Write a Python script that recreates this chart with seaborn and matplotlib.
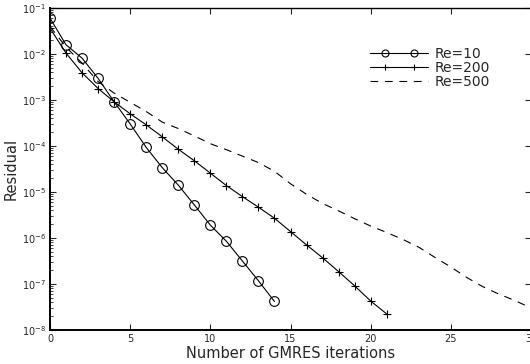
import numpy as np
import pandas as pd
import matplotlib
matplotlib.use("Agg")
import matplotlib.pyplot as plt
import seaborn as sns
from matplotlib.legend_handler import HandlerLine2D
from matplotlib.lines import Line2D

# ---- data (log10 of residual) ----
it_re10 = list(range(0, 15))
log_re10 = [-1.22, -1.80, -2.09, -2.53, -3.04, -3.52, -4.03, -4.47, -4.85,
            -5.28, -5.72, -6.07, -6.50, -6.93, -7.38]
it_re200 = list(range(0, 22))
log_re200 = [-1.44, -1.98, -2.41, -2.75, -3.04, -3.30, -3.54, -3.80, -4.07,
             -4.32, -4.59, -4.86, -5.10, -5.33, -5.57, -5.86, -6.15, -6.43,
             -6.73, -7.04, -7.37, -7.65]
it_re500 = list(range(0, 31))
log_re500 = [-1.40, -1.85, -2.20, -2.60, -2.85, -3.05, -3.25, -3.48, -3.62,
             -3.78, -3.95, -4.08, -4.22, -4.36, -4.55, -4.82, -5.05, -5.25,
             -5.41, -5.58, -5.74, -5.88, -6.03, -6.20, -6.42, -6.63, -6.86,
             -7.06, -7.22, -7.36, -7.52]
labels = ["Re=10", "Re=200", "Re=500"]

sns.set_style("ticks")
plt.rcParams['font.family'] = ['DejaVu Sans']

fig = plt.figure(figsize=(5.30, 3.64), dpi=100)
ax = fig.add_axes([50/530, 1 - 330/364, 481/530, 322/364])

d10 = pd.DataFrame({"it": it_re10, "res": np.power(10.0, log_re10)})
d200 = pd.DataFrame({"it": it_re200, "res": np.power(10.0, log_re200)})
d500 = pd.DataFrame({"it": it_re500, "res": np.power(10.0, log_re500)})

sns.lineplot(data=d10, x="it", y="res", ax=ax, color="k", lw=0.8,
             linestyle="-", marker="o", markersize=7, mfc="none",
             mec="k", mew=0.8, label=labels[0])
sns.lineplot(data=d200, x="it", y="res", ax=ax, color="k", lw=0.8,
             linestyle="-", marker="+", markersize=5.5, mec="k", mew=0.8,
             label=labels[1])
sns.lineplot(data=d500, x="it", y="res", ax=ax, color="k", lw=0.8,
             linestyle=(0, (7, 6)), label=labels[2])

ax.set_yscale("log")
ax.set_xlim(0, 30)
ax.set_ylim(1e-8, 1e-1)
ax.set_xticks([0, 5, 10, 15, 20, 25, 30])
ax.tick_params(which="both", direction="in", top=True, right=True,
               labelsize=7, pad=3)
ax.tick_params(which="major", length=4, width=0.8)
ax.tick_params(which="minor", length=2, width=0.6)
ax.tick_params(axis="x", which="minor", top=False, bottom=False)
ax.tick_params(axis="y", which="minor", right=False)
for s in ax.spines.values():
    s.set_linewidth(1.0)
    s.set_visible(True)
    s.set_color("k")
ax.spines["left"].set_linewidth(1.4)
ax.spines["bottom"].set_linewidth(1.4)

ax.set_xlabel("Number of GMRES iterations", fontsize=10.5, labelpad=1)
ax.set_ylabel("Residual", fontsize=10.5, labelpad=2)


class MatlabHandler(HandlerLine2D):
    def create_artists(self, legend, orig_handle, xdescent, ydescent,
                       width, height, fontsize, trans):
        y = (height - ydescent) / 2
        x0, x1 = -xdescent, -xdescent + width
        line = Line2D([x0, x1], [y, y])
        self.update_prop(line, orig_handle, legend)
        line.set_marker("")
        line.set_transform(trans)
        arts = [line]
        if orig_handle.get_marker() not in (None, "", "None"):
            mk = Line2D([x0 + 0.25 * width, x0 + 0.75 * width], [y, y])
            self.update_prop(mk, orig_handle, legend)
            mk.set_linestyle("")
            mk.set_markersize(orig_handle.get_markersize() * 0.72)
            mk.set_transform(trans)
            arts.append(mk)
        return arts


handles, labs = ax.get_legend_handles_labels()
ax.legend(handles, labs, loc="upper right", bbox_to_anchor=(0.935, 0.91),
          frameon=False, fontsize=10, handlelength=4.2, handletextpad=0.45,
          labelspacing=0.0, borderpad=0.2,
          handler_map={Line2D: MatlabHandler()})

fig.savefig("out.png", dpi=100)
